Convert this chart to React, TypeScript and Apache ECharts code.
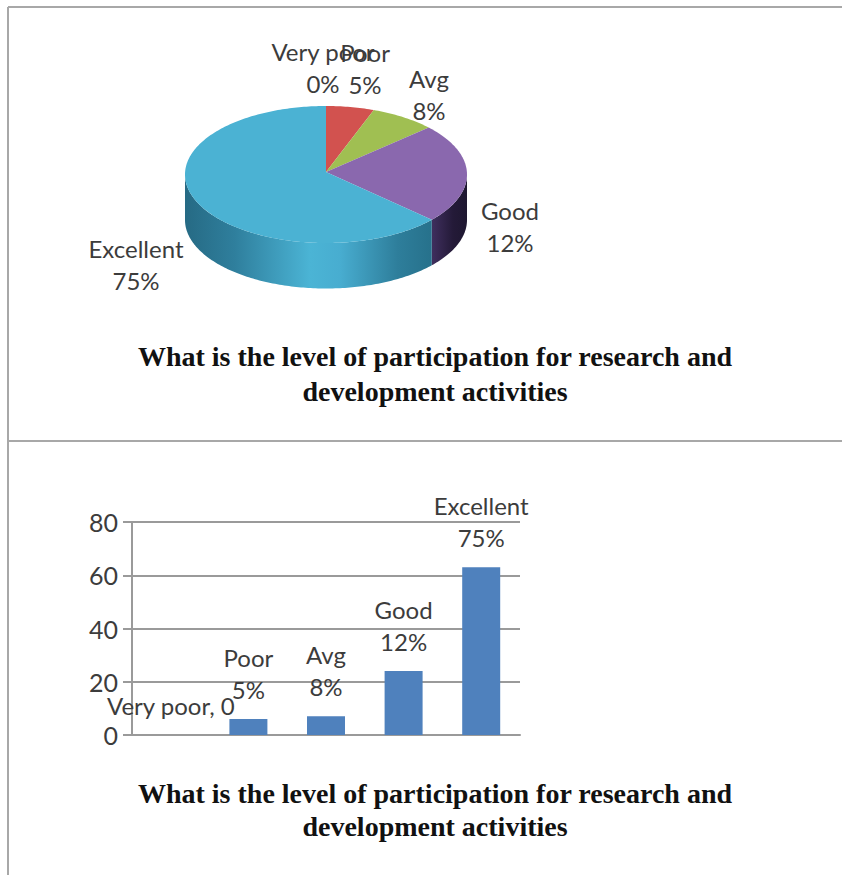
import React, { useEffect, useRef } from "react";
import * as echarts from "echarts";

const categories = ["Very poor", "Poor", "Avg", "Good", "Excellent"];
const percentLabels = ["0%", "5%", "8%", "12%", "75%"];
const pieValues = [0, 5.5, 7.5, 23.5, 63.5];
const barValues = [0, 6, 7, 24, 63];
const yTicks = [0, 20, 40, 60, 80];
const titleLines = [
  "What is the level of participation for research and",
  "development activities",
];
const sliceColors = ["#4f81bd", "#d2524f", "#a0bf52", "#8a68ae", "#4bb2d3"];
const labelCenters = [
  [323, 67],
  [365, 68],
  [429, 94],
  [510, 226],
  [136, 264],
];

const CX = 326;
const CY = 174.5;
const APEX_Y = 172;
const RX = 141;
const RY = 68.5;
const DEPTH = 45.5;
const FONT = "Lato";
const TEXT = "#3c3c3c";

const pt = (deg: number, dy = 0) => {
  const r = (deg * Math.PI) / 180;
  return [CX + RX * Math.sin(r), CY - RY * Math.cos(r) + dy];
};

const total = pieValues.reduce((a, b) => a + b, 0);
let running = 0;
const pieRows = pieValues.map((v, i) => {
  const start = (running / total) * 360;
  running += v;
  return [i, start, (running / total) * 360];
});

const arc = (a: number, b: number, dy = 0) => {
  const pts: number[][] = [];
  const n = Math.max(1, Math.ceil(b - a));
  for (let k = 0; k <= n; k++) pts.push(pt(a + ((b - a) * k) / n, dy));
  return pts;
};

const sideFill = (i: number) =>
  i === 3
    ? new echarts.graphic.LinearGradient(432, 0, 467, 0, [
        { offset: 0, color: "#3f2f5e" },
        { offset: 0.6, color: "#241a38" },
        { offset: 1, color: "#1e1730" },
      ], true)
    : new echarts.graphic.LinearGradient(185, 0, 435, 0, [
        { offset: 0, color: "#266a84" },
        { offset: 0.2, color: "#2f7f9d" },
        { offset: 0.5, color: "#4bb4d5" },
        { offset: 0.62, color: "#48add0" },
        { offset: 0.85, color: "#2e7e9b" },
        { offset: 1, color: "#26708a" },
      ], true);

export default function App() {
  const ref = useRef<HTMLDivElement>(null);
  useEffect(() => {
    const chart = echarts.init(ref.current!, undefined, { renderer: "svg" });
    const borderStyle = { stroke: "#a8a8a8", lineWidth: 2 };
    chart.setOption({
      animation: false,
      backgroundColor: "#ffffff",
      title: [
        [356, 0],
        [391, 1],
        [793, 0],
        [826, 1],
      ].map(([y, line]) => ({
        text: titleLines[line],
        left: 435,
        top: y,
        textAlign: "center",
        textVerticalAlign: "middle",
        padding: 0,
        textStyle: {
          fontFamily: "Liberation Serif",
          fontWeight: "bold",
          fontSize: 28,
          color: "#111111",
        },
      })),
      graphic: [
        { type: "line", silent: true, shape: { x1: 8, y1: 7, x2: 842, y2: 7 }, style: borderStyle },
        { type: "line", silent: true, shape: { x1: 8, y1: 7, x2: 8, y2: 875 }, style: borderStyle },
        { type: "line", silent: true, shape: { x1: 8, y1: 441, x2: 842, y2: 441 }, style: borderStyle },
      ],
      grid: { left: 132, top: 522, width: 388, height: 213 },
      xAxis: {
        type: "category",
        data: categories,
        axisLine: { lineStyle: { color: "#9a9a9a", width: 2 } },
        axisTick: { show: false },
        axisLabel: { show: false },
        splitLine: { show: false },
      },
      yAxis: {
        type: "value",
        min: 0,
        max: 80,
        interval: yTicks[1],
        axisLine: { show: true, lineStyle: { color: "#9a9a9a", width: 2 } },
        axisTick: { show: true, length: 9, lineStyle: { color: "#9a9a9a", width: 2 } },
        axisLabel: { fontFamily: FONT, fontSize: 25, color: TEXT, margin: 14 },
        splitLine: { show: true, lineStyle: { color: "#9a9a9a", width: 2 } },
      },
      series: [
        {
          type: "bar",
          data: barValues,
          barWidth: 38,
          itemStyle: { color: "#4f81bd" },
          label: {
            show: true,
            position: "top",
            distance: 14,
            fontFamily: FONT,
            fontSize: 24,
            lineHeight: 32,
            color: TEXT,
            formatter: (p: any) =>
              p.dataIndex === 0
                ? `${categories[0]}, ${p.value}`
                : `${categories[p.dataIndex]}\n${percentLabels[p.dataIndex]}`,
          },
        },
        {
          type: "custom",
          coordinateSystem: "none",
          silent: true,
          data: pieRows,
          renderItem: (_: any, api: any) => {
            const i = api.value(0);
            const a = Math.max(api.value(1), 90);
            const b = Math.min(api.value(2), 270);
            if (b <= a) return { type: "group", children: [] };
            const pts = [...arc(a, b), ...arc(a, b, DEPTH).reverse()];
            return { type: "polygon", shape: { points: pts }, style: { fill: sideFill(i) } };
          },
        },
        {
          type: "custom",
          coordinateSystem: "none",
          silent: true,
          data: pieRows,
          renderItem: (_: any, api: any) => {
            const i = api.value(0);
            const a = api.value(1);
            const b = api.value(2);
            if (b <= a) return { type: "group", children: [] };
            return {
              type: "polygon",
              shape: { points: [[CX, APEX_Y], ...arc(a, b)] },
              style: { fill: sliceColors[i] },
            };
          },
        },
        {
          type: "custom",
          coordinateSystem: "none",
          silent: true,
          data: pieRows,
          renderItem: (_: any, api: any) => {
            const i = api.value(0);
            return {
              type: "text",
              z2: 10,
              x: labelCenters[i][0],
              y: labelCenters[i][1],
              style: {
                text: `${categories[i]}\n${percentLabels[i]}`,
                fontFamily: FONT,
                fontSize: 24,
                lineHeight: 32,
                fill: TEXT,
                align: "center",
                verticalAlign: "middle",
              },
            };
          },
        },
      ],
    });
    return () => chart.dispose();
  }, []);
  return (
    <div
      ref={ref}
      style={{ position: "fixed", left: 0, top: 0, width: 842, height: 875 }}
    />
  );
}
